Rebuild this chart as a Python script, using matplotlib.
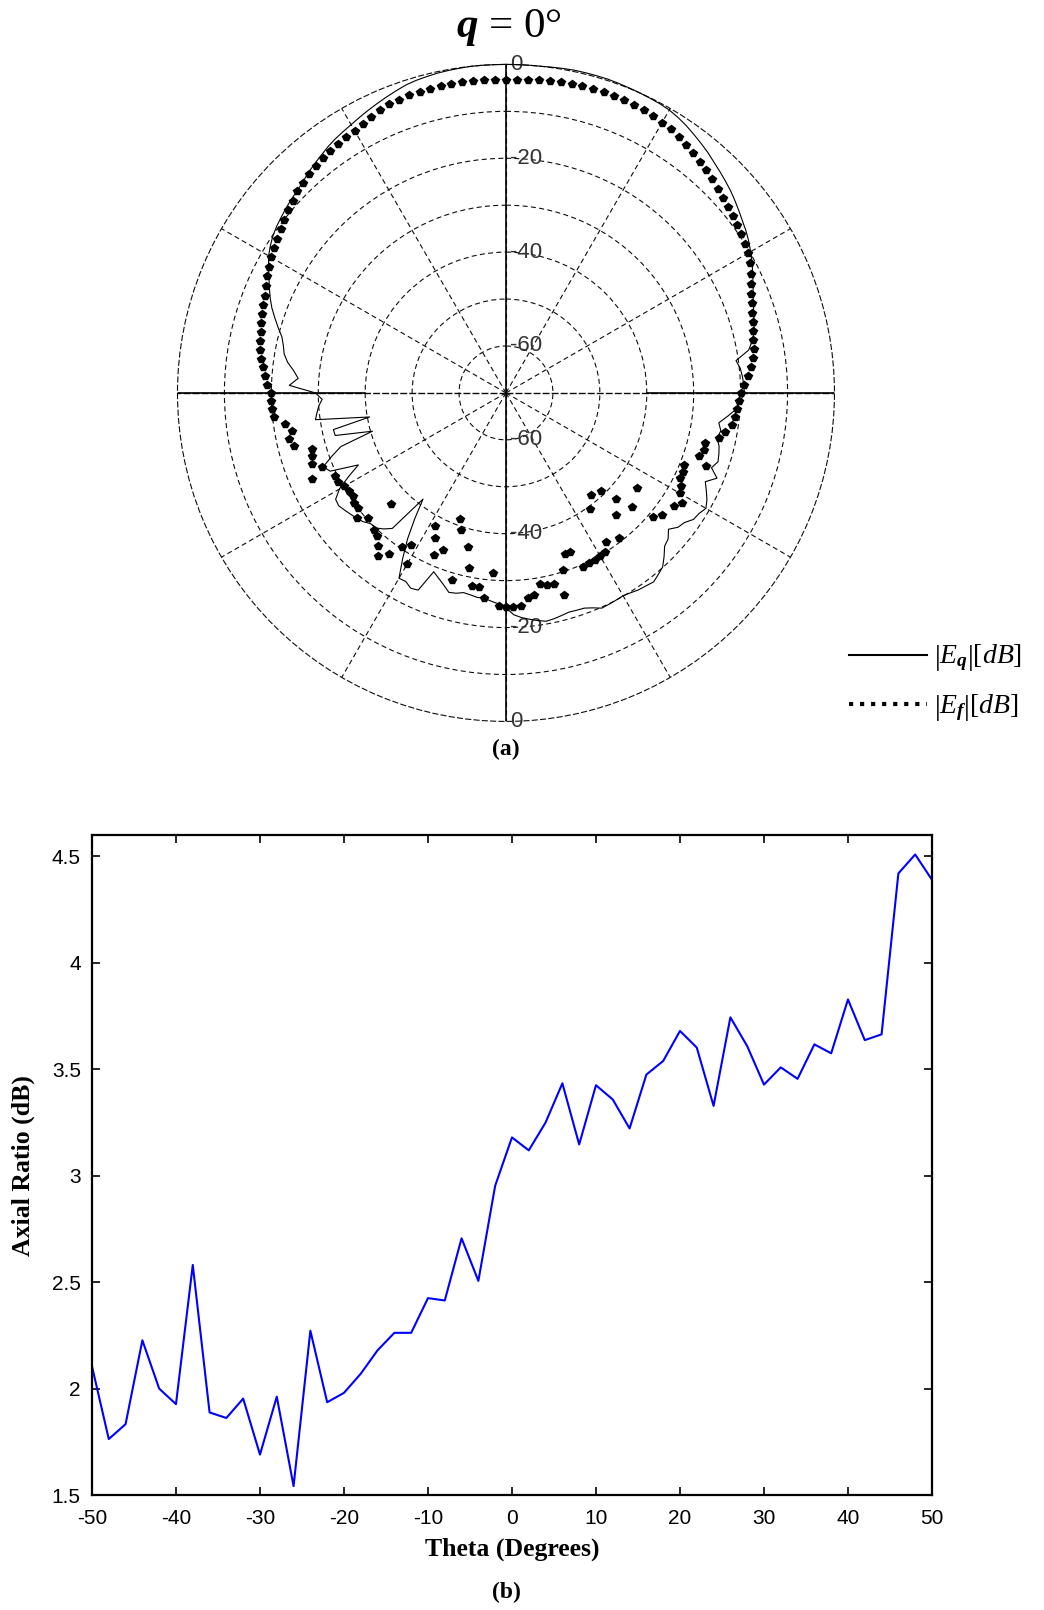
import numpy as np
import matplotlib
matplotlib.use("Agg")
from matplotlib import pyplot as plt
from matplotlib.lines import Line2D

plt.rcParams['font.family'] = ['Liberation Sans', 'DejaVu Sans']
plt.rcParams['axes.unicode_minus'] = False
plt.rcParams['mathtext.fontset'] = 'custom'
plt.rcParams['mathtext.rm'] = 'Liberation Serif'
plt.rcParams['mathtext.it'] = 'Liberation Serif:italic'
plt.rcParams['mathtext.bf'] = 'Liberation Serif:bold'
if 'mathtext.bfit' in plt.rcParams:
    plt.rcParams['mathtext.bfit'] = 'Liberation Serif:italic:bold'

# (a) radiation pattern, angle clockwise from boresight (deg), levels in dB
pattern_angle = np.arange(0, 360, 2)

e_theta_db = [
    0.0, 0.0, 0.0, 0.0, 0.1, 0.2, 0.3, 0.3, 0.3, 0.3,
    0.2, 0.1, 0.0, -0.1, -0.2, -0.4, -0.8, -1.3, -1.9, -2.5,
    -3.1, -3.8, -4.4, -5.0, -5.6, -6.3, -7.0, -7.7, -8.3, -9.0,
    -9.8, -10.6, -11.5, -12.4, -13.2, -13.9, -14.5, -15.0, -15.5, -16.3,
    -17.5, -20.5, -19.8, -19.5, -19.3,
    -19.2, -20.0, -20.8, -22.5, -24.2, -23.5, -24.0, -23.2, -22.8, -22.5,
    -23.4, -21.5, -23.5, -22.5, -21.5, -20.8, -21.5, -21.8, -23.0, -23.5,
    -24.8, -23.5, -23.0, -21.5, -20.1, -19.5, -18.9, -19.2, -19.4, -19.8,
    -20.1, -20.0, -19.9, -19.8, -20.6, -21.2, -21.3, -21.4, -21.1, -20.8,
    -20.6, -21.0, -21.5, -22.0, -22.7,
    -24.2, -25.0, -25.5, -26.0, -26.0, -26.3, -26.5, -26.0, -25.8, -27.0,
    -28.0, -28.9, -24.0, -23.7, -24.5, -24.4, -28.5, -32.5, -37.0, -41.3,
    -32.3, -31.0, -30.0, -29.9, -29.0, -28.5, -28.0, -27.5, -27.0, -27.2,
    -29.0, -32.0, -35.0, -29.0, -28.0, -30.5, -33.0, -40.4, -32.5, -32.4,
    -40.5, -29.0, -29.5, -30.0, -30.8,
    -29.4, -23.8, -25.6, -24.5, -23.0, -22.0, -21.5, -20.8, -19.5, -18.2,
    -16.9, -15.8, -14.8, -13.8, -12.7, -11.6, -10.8, -10.1, -9.6, -9.2,
    -8.8, -8.4, -8.1, -7.6, -7.0, -6.4, -5.9, -5.3, -4.8, -4.4,
    -4.0, -3.5, -3.0, -2.5, -2.0, -1.5, -1.0, -0.7, -0.5, -0.3,
    -0.2, -0.1, 0.0, 0.0, 0.0,
]

e_phi_db = [
    -3.3, -3.2, -3.1, -3.0, -2.9, -2.8, -2.7, -2.6, -2.6, -2.6,
    -2.6, -2.7, -2.8, -3.0, -3.2, -3.5, -3.8, -4.2, -4.7, -5.2,
    -5.7, -6.2, -6.7, -7.3, -7.8, -8.2, -8.6, -9.1, -9.5, -10.0,
    -10.5, -11.2, -12.0, -12.8, -13.6, -14.2, -14.8, -15.3, -15.7, -16.1,
    -16.4, -16.9, -17.6, -18.4, -19.2,
    -20.0, -20.3, -20.6, -21.0, -21.3, -22.5, -23.5, -26.2, -26.1, -26.7,
    -24.6, -29.0, -28.8, -28.7, -27.8, -27.2, -25.7, -26.9, -35.6, -27.7,
    -29.0, -33.8, -37.5, -40.8, -34.9, -41.7, -30.8, -39.5, -31.8, -30.0,
    -29.8, -29.7, -29.6, -29.5, -33.4, -33.4, -30.4, -25.3, -28.1, -28.1,
    -28.6, -26.5, -26.0, -24.4, -24.4,
    -24.3, -24.5, -31.5, -26.0, -28.2, -28.2, -31.8, -36.2, -28.6, -39.2,
    -41.3, -34.0, -32.1, -35.7, -37.9, -28.0, -31.9, -30.5, -27.5, -25.8,
    -27.5, -29.0, -29.4, -36.0, -30.3, -28.5, -30.1, -30.1, -30.7, -30.5,
    -30.2, -29.5, -29.5, -24.8, -27.8, -25.9, -26.5, -26.9, -23.5, -22.8,
    -23.6, -22.5, -20.4, -20.0, -20.0,
    -20.0, -19.0, -18.5, -18.0, -17.3, -16.8, -16.4, -16.1, -15.8, -15.4,
    -15.0, -14.6, -14.0, -13.4, -12.8, -12.2, -11.7, -11.2, -10.7, -10.0,
    -9.4, -8.8, -8.2, -7.7, -7.3, -6.9, -6.6, -6.3, -6.0, -5.8,
    -5.5, -5.0, -4.5, -4.1, -3.7, -3.5, -3.3, -3.2, -3.2, -3.1,
    -3.1, -3.1, -3.2, -3.2, -3.3,
]

db_floor = -70
ring_labels = ['-60', '-40', '-20', '0']
ring_label_db = [-60, -40, -20, 0]

# (b) axial ratio
ar_theta = np.arange(-50, 51, 2)
axial_ratio = [
    2.105, 1.763, 1.833, 2.227, 2.0, 1.927, 2.581, 1.888, 1.862, 1.953,
    1.69, 1.962, 1.542, 2.272, 1.936, 1.98, 2.07, 2.18, 2.262, 2.262,
    2.425, 2.414, 2.706, 2.506, 2.953, 3.18, 3.119, 3.25, 3.434, 3.147,
    3.425, 3.358, 3.222, 3.475, 3.539, 3.68, 3.602, 3.328, 3.744, 3.609,
    3.428, 3.509, 3.455, 3.617, 3.575, 3.828, 3.637, 3.664, 4.42, 4.509,
    4.39,
]
ar_yticks = [1.5, 2, 2.5, 3, 3.5, 4, 4.5]
ar_yticklabels = ['1.5', '2', '2.5', '3', '3.5', '4', '4.5']
ar_xticks = [-50, -40, -30, -20, -10, 0, 10, 20, 30, 40, 50]

fig = plt.figure(figsize=(10.44, 16.10), dpi=100)

# ---- polar pattern ----
ax = fig.add_axes([0.1700, 0.5519, 0.6293, 0.4081], projection='polar')
ax.set_theta_zero_location('N')
ax.set_theta_direction(-1)
ax.set_ylim(0, -db_floor)
grid_dash = (0, (4.5, 3))
ax.set_rgrids(np.arange(10, 70, 10), labels=[''] * 6)
ax.set_thetagrids(np.arange(0, 360, 30), labels=[''] * 12)
ax.grid(True, color='0.05', linestyle=grid_dash, linewidth=0.8)
for loc, tick in zip(ax.xaxis.get_majorticklocs(), ax.xaxis.get_major_ticks()):
    if np.isclose(np.rad2deg(loc) % 180, 90):
        tick.gridline.set_linestyle((0, (5, 1.5)))
        tick.gridline.set_linewidth(1.0)
ax.spines['polar'].set_linestyle(grid_dash)
ax.spines['polar'].set_linewidth(0.8)
ax.spines['polar'].set_color('0.05')

ax.axvline(0, color='k', lw=1.2, zorder=3)
ax.axvline(np.pi, color='k', lw=1.2, zorder=3)
ax.axvline(np.pi / 2, ymin=(-40 - db_floor) / -db_floor, ymax=1, color='k', lw=1.2, zorder=3)
ax.axvline(3 * np.pi / 2, ymin=(-40 - db_floor) / -db_floor, ymax=1, color='k', lw=1.2, zorder=3)

th = np.deg2rad(pattern_angle)
r_theta = np.array(e_theta_db) - db_floor
r_phi = np.array(e_phi_db) - db_floor
ax.plot(np.append(th, th[0]), np.append(r_theta, r_theta[0]), color='k', lw=0.8,
        clip_on=False, zorder=4)
ax.plot(th, r_phi, linestyle='none', marker='p', markersize=6, color='k',
        clip_on=False, zorder=5)

for lab, db in zip(ring_labels, ring_label_db):
    for ang in (0, np.pi):
        ax.annotate(lab, xy=(ang, db - db_floor), xytext=(3, 0), textcoords='offset points',
                    ha='left', va='center', fontsize=16, color='0.2', annotation_clip=False)

fig.text(0.4875, 0.983, r'$\mathbfit{q}$ = 0°', family='Liberation Serif', fontsize=31,
         ha='center', va='center')
fig.text(0.4847, 0.5348, '(a)', family='Liberation Serif', weight='bold', fontsize=17,
         ha='center', va='center')

handles = [Line2D([], [], color='k', lw=1.5),
           Line2D([], [], color='k', ls=':', lw=3)]
labels = [r'$\left|E_{\mathbfit{q}}\right|[dB]$', r'$\left|E_{\mathbfit{f}}\right|[dB]$']
fig.legend(handles, labels, loc='upper left', bbox_to_anchor=(0.800, 0.609), frameon=False,
           fontsize=20, handlelength=2.8, handletextpad=0.25, labelspacing=0.65, borderpad=0)

# ---- axial ratio ----
ax2 = fig.add_axes([0.0881, 0.0714, 0.8046, 0.4099])
ax2.plot(ar_theta, axial_ratio, color='#0000ff', lw=1.5)
ax2.set_xlim(-50, 50)
ax2.set_ylim(1.5, 4.6)
ax2.set_xticks(ar_xticks)
ax2.set_yticks(ar_yticks)
ax2.set_yticklabels(ar_yticklabels)
ax2.tick_params(direction='in', top=True, right=True, length=6, width=1.2,
                labelsize=15, pad=8)
ax2.tick_params(axis='x', pad=10)
for sp in ax2.spines.values():
    sp.set_linewidth(1.6)
ax2.set_xlabel('Theta (Degrees)', family='Liberation Serif', weight='bold', fontsize=18.5,
               labelpad=7)
ax2.set_ylabel('Axial Ratio (dB)', family='Liberation Serif', weight='bold', fontsize=18.5,
               labelpad=12)
fig.text(0.4847, 0.0106, '(b)', family='Liberation Serif', weight='bold', fontsize=17,
         ha='center', va='center')

fig.savefig('out.png', dpi=100)
